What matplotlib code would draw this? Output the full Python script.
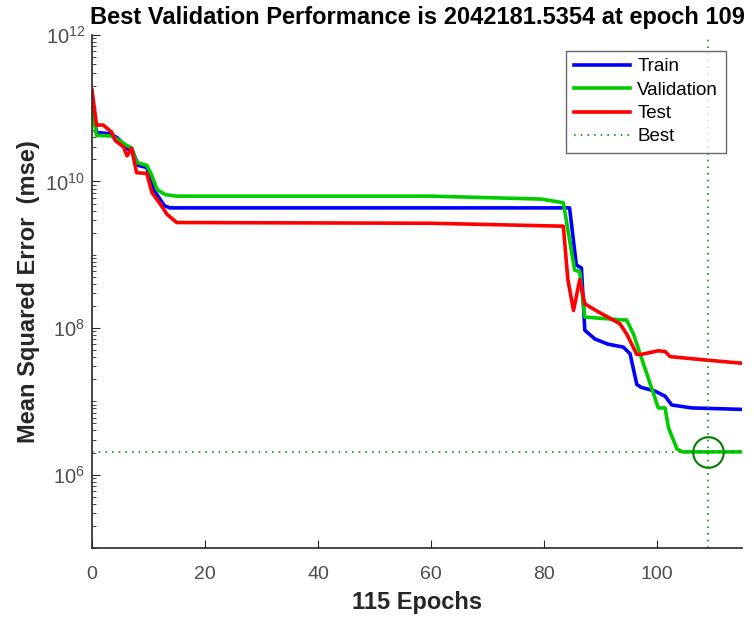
import numpy as np
import matplotlib
matplotlib.use('Agg')
import matplotlib.pyplot as plt
from matplotlib.ticker import LogLocator, FixedLocator, NullFormatter

plt.rcParams['font.family'] = ['Liberation Sans', 'DejaVu Sans']

# breakpoints (epoch, log10 of mse)
train_ep = [0, 0.8, 3.2, 4.4, 5.6, 6.4, 7, 8.2, 9.7, 10.9, 12.8, 13.8, 84.5,
            85.7, 86.6, 87.2, 89, 91.3, 94, 95.2, 96.4, 97.2, 99.6, 101.4, 102.6, 106.1, 115]
train_log = [11.06, 10.67, 10.65, 10.6, 10.51, 10.44, 10.45, 10.22, 10.19, 9.89, 9.67, 9.64, 9.64,
             8.86, 8.82, 7.97, 7.85, 7.78, 7.74, 7.65, 7.23, 7.19, 7.14, 7.07, 6.95, 6.91, 6.89]

val_ep = [0, 0.8, 3.5, 4.4, 6.2, 7, 7.9, 9.7, 10.6, 11.5, 13, 15, 60, 79.5, 83.4,
          85.4, 86.3, 87.2, 94, 94.6, 95.8, 100.2, 101.4, 102, 103.5, 104.5, 115]
val_log = [11.0, 10.63, 10.62, 10.58, 10.49, 10.46, 10.26, 10.22, 10.08, 9.89, 9.82, 9.80, 9.80, 9.76, 9.71,
           8.79, 8.77, 8.15, 8.11, 8.11, 7.92, 6.91, 6.91, 6.64, 6.35, 6.31, 6.31]

test_ep = [0, 0.8, 2, 3.5, 4.1, 5.6, 6.2, 7, 7.9, 9.7, 10.6, 12.1, 13.3, 15, 60, 83.4,
           84.2, 85.2, 86.3, 87.2, 89.6, 93.4, 94.6, 96.4, 97.2, 100.2, 101.4, 102.3, 109.1, 115]
test_log = [11.25, 10.77, 10.77, 10.67, 10.56, 10.47, 10.35, 10.45, 10.12, 10.11, 9.85, 9.69, 9.55, 9.44, 9.43, 9.39,
            8.66, 8.24, 8.66, 8.33, 8.22, 8.06, 7.92, 7.64, 7.64, 7.69, 7.68, 7.61, 7.56, 7.52]

best_epoch = 109
best_perf = 2042181.5354

fig = plt.figure(figsize=(7.54, 6.24), dpi=100)
ax = fig.add_axes([0.122, 0.122, 0.862, 0.822])

lw = 2.6
ax.semilogy(train_ep, 10 ** np.array(train_log), color='#0000ff', lw=lw, label='Train')
ax.semilogy(val_ep, 10 ** np.array(val_log), color='#00cc00', lw=lw, label='Validation')
ax.semilogy(test_ep, 10 ** np.array(test_log), color='#ff0000', lw=lw, label='Test')
ax.axvline(best_epoch, color='#00a000', ls=(0, (1, 3)), lw=1.2, label='Best')
ax.axhline(best_perf, color='#00a000', ls=(0, (1, 3)), lw=1.2)
ax.plot([best_epoch], [best_perf], 'o', ms=22, mfc='none', mec='#007f00', mew=1.5)

ax.set_xlim(0, 115)
ax.set_ylim(1e5, 1e12)
ax.xaxis.set_major_locator(FixedLocator([0, 20, 40, 60, 80, 100]))
ax.yaxis.set_major_locator(FixedLocator([1e6, 1e8, 1e10, 1e12]))
ax.yaxis.set_minor_locator(LogLocator(base=10, subs=np.arange(1, 10), numticks=100))
ax.yaxis.set_minor_formatter(NullFormatter())

for s in ['top', 'right']:
    ax.spines[s].set_visible(False)
for s in ['left', 'bottom']:
    ax.spines[s].set_color('#262626')
    ax.spines[s].set_linewidth(1.2)
ax.tick_params(which='both', direction='in', colors='#262626', labelcolor='#4d4d4d')
ax.tick_params(axis='x', labelsize=14, pad=13)
ax.tick_params(axis='y', labelsize=14.5, pad=5)
ax.tick_params(which='major', length=6)
ax.tick_params(which='minor', length=3)

ax.set_title('Best Validation Performance is 2042181.5354 at epoch 109',
             fontsize=17, fontweight='bold', pad=8)
ax.set_xlabel('115 Epochs', fontsize=17, fontweight='bold', color='#262626', labelpad=6)
ax.set_ylabel('Mean Squared Error  (mse)', fontsize=17, fontweight='bold', color='#262626', labelpad=4)

leg = ax.legend(loc='upper right', bbox_to_anchor=(0.975, 0.969), fontsize=13.5, fancybox=False,
                handlelength=3.0, borderpad=0.4, labelspacing=0.33, handletextpad=0.4,
                borderaxespad=0)
leg.get_frame().set_edgecolor('#404040')
leg.get_frame().set_linewidth(1.0)

fig.savefig('out.png', dpi=100)
